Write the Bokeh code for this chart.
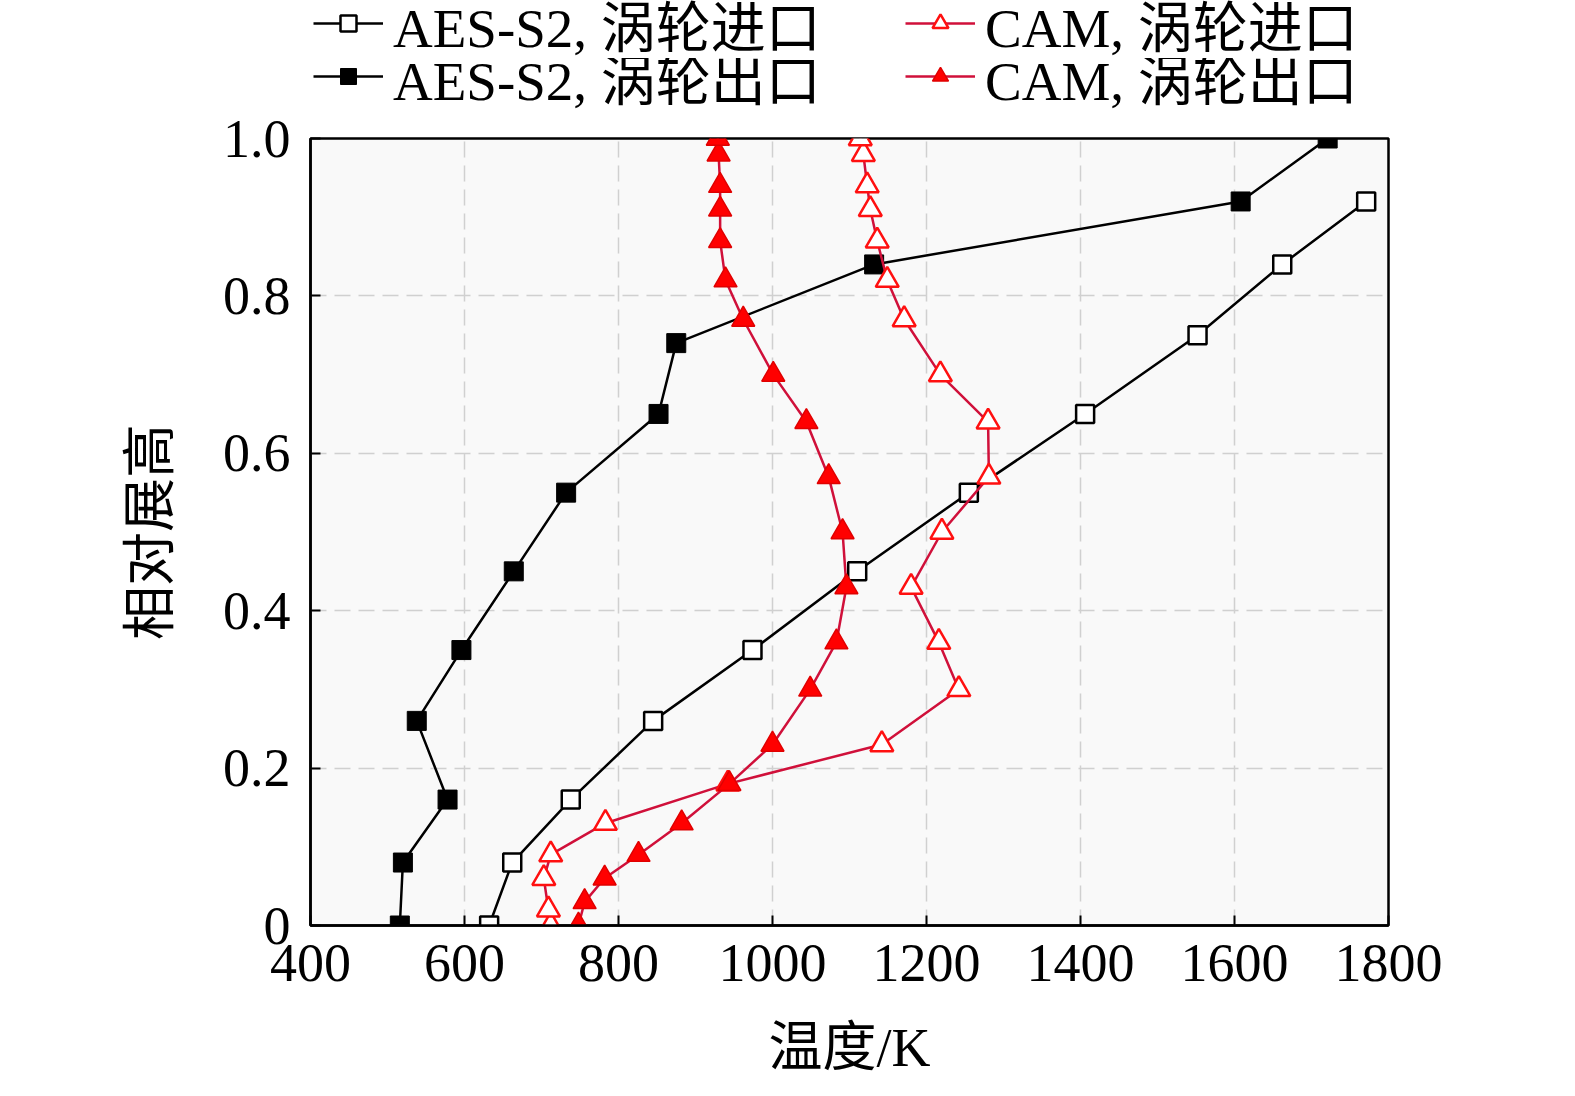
from bokeh.plotting import figure
from bokeh.models import Legend, LegendItem, FixedTicker, Range1d
from bokeh.layouts import column, row
from bokeh.embed import file_html
from bokeh.resources import INLINE

# AES-S2 data
aes_in_t = [632, 662, 738, 845, 974, 1110, 1255, 1406, 1552, 1662, 1771]
aes_in_h = [0.0, 0.08, 0.16, 0.26, 0.35, 0.45, 0.55, 0.65, 0.75, 0.84, 0.92]
aes_out_t = [516, 520, 578, 538, 596, 664, 732, 852, 875, 1132, 1608, 1721]
aes_out_h = [0.0, 0.08, 0.16, 0.26, 0.35, 0.45, 0.55, 0.65, 0.74, 0.84, 0.92, 1.0]

# CAM data
cam_in_t = [712, 709, 703, 712, 783, 942, 1142, 1242, 1216, 1180, 1220, 1281, 1280,
            1218, 1171, 1149, 1136, 1127, 1123, 1118, 1114]
cam_in_h = [0.0, 0.02, 0.06, 0.09, 0.13, 0.18, 0.23, 0.30, 0.36, 0.43, 0.50, 0.57,
            0.64, 0.70, 0.77, 0.82, 0.87, 0.91, 0.94, 0.98, 1.0]
cam_out_t = [748, 756, 782, 826, 882, 944, 1000, 1049, 1083, 1096, 1091, 1073, 1044,
             1001, 962, 939, 932, 932, 932, 930, 929]
cam_out_h = [0.0, 0.03, 0.06, 0.09, 0.13, 0.18, 0.23, 0.30, 0.36, 0.43, 0.50, 0.57,
             0.64, 0.70, 0.77, 0.82, 0.87, 0.91, 0.94, 0.98, 1.0]

x_ticks = [400, 600, 800, 1000, 1200, 1400, 1600, 1800]
y_ticks = [0, 0.2, 0.4, 0.6, 0.8, 1.0]
y_tick_labels = ["0", "0.2", "0.4", "0.6", "0.8", "1.0"]

labels = ["AES-S2, 涡轮进口", "AES-S2, 涡轮出口", "CAM, 涡轮进口", "CAM, 涡轮出口"]

FONT = "Liberation Serif, Noto Sans CJK SC"
CAM_LINE = "#d0103a"

series = [
    (aes_in_t, aes_in_h, dict(marker="square", size=18, fill_color="white",
                              line_color="black", line_width=2.5), "black"),
    (aes_out_t, aes_out_h, dict(marker="square", size=19, fill_color="black",
                                line_color="black", line_width=1), "black"),
    (cam_in_t, cam_in_h, dict(marker="triangle", size=23, fill_color="white",
                              line_color="#ff1010", line_width=2.5), CAM_LINE),
    (cam_out_t, cam_out_h, dict(marker="triangle", size=23, fill_color="#ff0000",
                                line_color="#e00000", line_width=1.5), CAM_LINE),
]


def draw(fig, idx):
    t, h, mk, lc = series[idx]
    ln = fig.line(t, h, line_color=lc, line_width=2.5)
    sc = fig.scatter(t, h, **mk)
    return [ln, sc]


TOTAL_W = 1559
ROW1_H, ROW2_H = 58, 54
LEG_H = ROW1_H + ROW2_H
MAIN_H = 1080 - LEG_H
FL, FR, FT, FB = 310, 1388, 138, 927  # frame edges in picture pixels

# ---------- main plot ----------
p = figure(width=TOTAL_W, height=MAIN_H, output_backend="svg", toolbar_location=None,
           x_range=Range1d(400, 1800), y_range=Range1d(0, 1.0),
           min_border_left=FL, min_border_right=TOTAL_W - FR,
           min_border_top=FT - LEG_H, min_border_bottom=MAIN_H - (FB - LEG_H))
p.background_fill_color = "#f9f9f9"
p.border_fill_color = "white"
p.outline_line_color = "black"
p.outline_line_width = 2.5

for ax in (p.xaxis[0], p.yaxis[0]):
    ax.axis_line_width = 2.5
    ax.major_tick_in = 10
    ax.major_tick_out = 0
    ax.major_tick_line_width = 2
    ax.minor_tick_line_color = None
    ax.major_label_text_font = FONT
    ax.major_label_text_font_size = "54px"
    ax.major_label_text_color = "black"
    ax.axis_label_text_font = FONT
    ax.axis_label_text_font_size = "54px"
    ax.axis_label_text_font_style = "normal"
    ax.axis_label_text_color = "black"

p.xaxis[0].ticker = FixedTicker(ticks=x_ticks)
p.yaxis[0].ticker = FixedTicker(ticks=y_ticks)
p.yaxis[0].major_label_overrides = {t: l for t, l in zip(y_ticks, y_tick_labels)}
p.xaxis[0].major_label_standoff = 19
p.yaxis[0].major_label_standoff = 20
p.xaxis[0].axis_label = "温度/K"
p.yaxis[0].axis_label = "相对展高"
p.xaxis[0].axis_label_standoff = 34
p.yaxis[0].axis_label_standoff = 39

for g in (p.xgrid[0], p.ygrid[0]):
    g.grid_line_color = "#d0d0d0"
    g.grid_line_dash = "16 8"
    g.grid_line_width = 1.5

for i in range(4):
    draw(p, i)


# ---------- legend strip: 2 rows x 2 columns ----------
def legend_fig(width, height, left, idx, vy):
    f = figure(width=width, height=height, output_backend="svg", toolbar_location=None,
               x_range=Range1d(0, 1), y_range=Range1d(0, 1),
               x_axis_location=None, y_axis_location=None,
               min_border_left=left, min_border_right=0,
               min_border_top=0, min_border_bottom=0)
    f.grid.visible = False
    f.outline_line_color = None
    f.background_fill_color = "white"
    f.border_fill_color = "white"
    lg = Legend(items=[LegendItem(label=labels[idx], renderers=draw(f, idx))],
                orientation="vertical", location=(0, vy))
    lg.label_text_font = FONT
    lg.label_text_font_size = "55px"
    lg.label_text_color = "black"
    lg.border_line_alpha = 0
    lg.background_fill_alpha = 0
    lg.glyph_width = 70
    lg.glyph_height = 40
    lg.label_height = 40
    lg.label_standoff = 10
    lg.spacing = 0
    lg.padding = 0
    lg.margin = 0
    f.add_layout(lg)
    return f


COL2 = 905
r1 = row(legend_fig(COL2, ROW1_H, 313, 0, -5),
         legend_fig(TOTAL_W - COL2, ROW1_H, 0, 2, -5))
r2 = row(legend_fig(COL2, ROW2_H, 313, 1, -4),
         legend_fig(TOTAL_W - COL2, ROW2_H, 0, 3, -4))

layout = column(r1, r2, p)

open("out.html", "w").write(file_html(layout, INLINE))
